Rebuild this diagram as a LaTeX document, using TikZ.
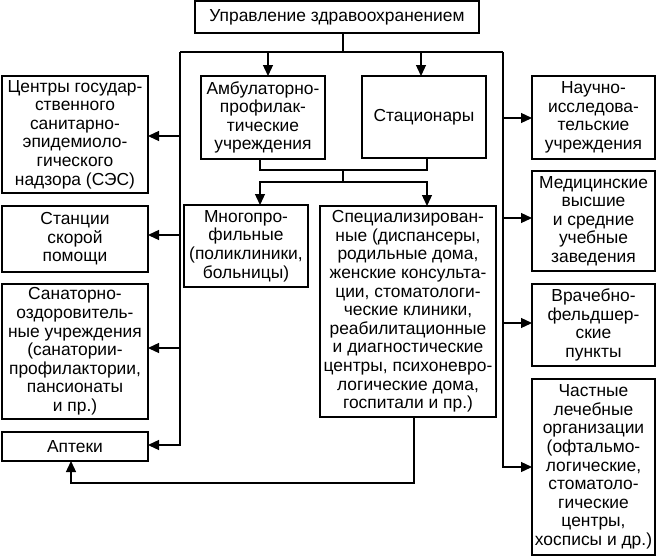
\documentclass[tikz,border=0pt]{standalone}
\usepackage{fontspec}
\setmainfont{Liberation Sans}
\usetikzlibrary{arrows.meta}
\begin{document}
\begin{tikzpicture}[x=1pt,y=-1pt,
  box/.style={draw, line width=1.3pt, inner sep=0pt, outer sep=0pt, align=center,
    font=\fontsize{17.4}{18.6}\selectfont},
  conn/.style={line width=1.3pt},
  arr/.style={line width=1.3pt, -{Triangle[length=11pt,width=10pt]}}]
\useasboundingbox (0,0) rectangle (657,557);
% boxes
\node[box, minimum width=284, minimum height=32] (top) at (337,17) {Управление здравоохранением};
\node[box, minimum width=124, minimum height=83] (amb) at (263,117.5) {Амбулаторно-\\профилак-\\тические\\учреждения};
\node[box, minimum width=124, minimum height=82] (stac) at (424,117) {Стационары};
\node[box, minimum width=124, minimum height=82] (mnog) at (246,246) {Многопро-\\фильные\\(поликлиники,\\больницы)};
\node[box, minimum width=176, minimum height=211] (spec) at (408,311.5) {Специализирован-\\ные (диспансеры,\\родильные дома,\\женские консульта-\\ции, стоматологи-\\ческие клиники,\\реабилитационные\\и диагностические\\центры, психоневро-\\логические дома,\\госпитали и пр.)};
\node[box, minimum width=146, minimum height=117] (ses) at (75,134.5) {Центры государ-\\ственного\\санитарно-\\эпидемиоло-\\гического\\надзора (СЭС)};
\node[box, minimum width=146, minimum height=66] (skor) at (75,239) {Станции\\скорой\\помощи};
\node[box, minimum width=146, minimum height=135] (san) at (75,351.5) {Санаторно-\\оздоровитель-\\ные учреждения\\(санатории-\\профилактории,\\пансионаты\\и пр.)};
\node[box, minimum width=146, minimum height=29] (apt) at (75,446.5) {Аптеки};
\node[box, minimum width=123, minimum height=83] (nauch) at (593.5,117.5) {Научно-\\исследова-\\тельские\\учреждения};
\node[box, minimum width=123, minimum height=100] (med) at (593.5,221) {Медицинские\\высшие\\и средние\\учебные\\заведения};
\node[box, minimum width=123, minimum height=82] (vrach) at (593.5,325) {Врачебно-\\фельдшер-\\ские\\пункты};
\node[box, minimum width=123, minimum height=176] (chast) at (593.5,467) {Частные\\лечебные\\организации\\(офтальмо-\\логические,\\стоматоло-\\гические\\центры,\\хосписы и др.)};
% junctions
\coordinate (jT) at (343,52);
\coordinate (jL) at (180,52);
\coordinate (jR) at (503,52);
\coordinate (jM1) at (343,170);
\coordinate (jM2) at (343,182);
\coordinate (jB) at (414,483);
% connectors
\draw[conn] (top.south -| jT) -- (jT);
\draw[conn] (jL) -- (jR);
\draw[arr] (jL) -- (180,445) -- (apt.east |- 0,445);
\draw[arr] (180,136) -- (ses.east |- 0,136);
\draw[arr] (180,235) -- (skor.east |- 0,235);
\draw[arr] (180,348) -- (san.east |- 0,348);
\draw[arr] (jR) -- (503,467) -- (chast.west |- 0,467);
\draw[arr] (503,118) -- (nauch.west |- 0,118);
\draw[arr] (503,218) -- (med.west |- 0,218);
\draw[arr] (503,323) -- (vrach.west |- 0,323);
\draw[arr] (268,52) -- (amb.north -| 268,0);
\draw[arr] (421,52) -- (stac.north -| 421,0);
\draw[conn] (amb.south -| 260,0) -- (260,170) -- (427,170) -- (stac.south -| 427,0);
\draw[conn] (jM1) -- (jM2);
\draw[arr] (jM2) -- (260,182) -- (mnog.north -| 260,0);
\draw[arr] (jM2) -- (427,182) -- (spec.north -| 427,0);
\draw[arr] (spec.south -| jB) -- (jB) -- (71,483) -- (apt.south -| 71,0);
\end{tikzpicture}
\end{document}
